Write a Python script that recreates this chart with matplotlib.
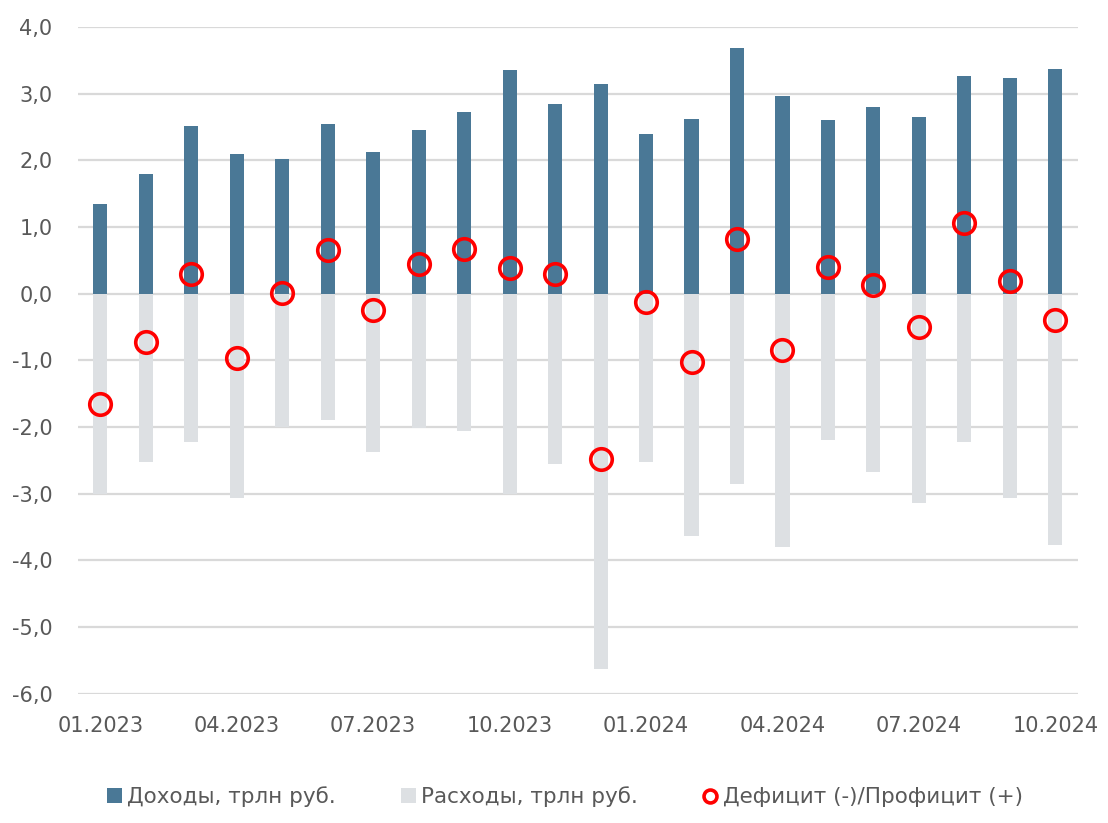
import matplotlib.pyplot as plt
from matplotlib.ticker import FuncFormatter

months = ["01.2023", "02.2023", "03.2023", "04.2023", "05.2023", "06.2023",
          "07.2023", "08.2023", "09.2023", "10.2023", "11.2023", "12.2023",
          "01.2024", "02.2024", "03.2024", "04.2024", "05.2024", "06.2024",
          "07.2024", "08.2024", "09.2024", "10.2024"]
income = [1.35, 1.80, 2.51, 2.10, 2.02, 2.55, 2.13, 2.46, 2.73, 3.36, 2.85, 3.15,
          2.39, 2.62, 3.69, 2.96, 2.60, 2.80, 2.65, 3.27, 3.24, 3.37]
expense = [-3.00, -2.53, -2.22, -3.06, -2.00, -1.89, -2.38, -2.01, -2.06, -3.01, -2.55, -5.63,
           -2.52, -3.64, -2.86, -3.80, -2.19, -2.67, -3.14, -2.22, -3.06, -3.77]
balance = [-1.66, -0.73, 0.29, -0.96, 0.01, 0.66, -0.24, 0.45, 0.67, 0.39, 0.30, -2.48,
           -0.13, -1.02, 0.82, -0.85, 0.40, 0.13, -0.50, 1.06, 0.19, -0.40]

plt.rcParams['font.family'] = ['DejaVu Sans']
TXT = "#595959"

fig = plt.figure(figsize=(11.08, 8.23), dpi=100)
ax = fig.add_axes([0.070, 0.157, 0.903, 0.810])

x = list(range(len(months)))
WIDTH = 0.31
b1 = ax.bar(x, income, width=WIDTH, color="#4a7896", label="Доходы, трлн руб.", zorder=2)
b2 = ax.bar(x, expense, width=WIDTH, color="#dde0e3", label="Расходы, трлн руб.", zorder=2)
l1, = ax.plot(x, balance, linestyle="none", marker="o", markersize=15.5, markerfacecolor="none",
              markeredgecolor="#ff0000", markeredgewidth=2.6, label="Дефицит (-)/Профицит (+)", zorder=3)

ax.set_xlim(-0.5, len(months) - 0.5)
ax.set_ylim(-6, 4)
ax.set_yticks(range(-6, 5))
ax.yaxis.set_major_formatter(FuncFormatter(lambda v, p: f"{v:.1f}".replace(".", ",")))
ax.set_xticks(x[::3])
ax.set_xticklabels(months[::3])
ax.tick_params(axis="both", length=0, labelsize=15, labelcolor=TXT)
ax.tick_params(axis="x", pad=16)
ax.tick_params(axis="y", pad=18)
ax.grid(axis="y", color="#d9d9d9", linewidth=1.6, zorder=0)
ax.set_axisbelow(True)
for s in ax.spines.values():
    s.set_visible(False)

leg = fig.legend([b1, b2, l1], [b1.get_label(), b2.get_label(), l1.get_label()],
                 loc="center", bbox_to_anchor=(0.51, 0.032), ncol=3,
                 frameon=False, fontsize=15.5, handlelength=0.7, handletextpad=0.25,
                 columnspacing=3.0, markerscale=0.6)
for t in leg.get_texts():
    t.set_color(TXT)

plt.savefig("out.png", dpi=100)
